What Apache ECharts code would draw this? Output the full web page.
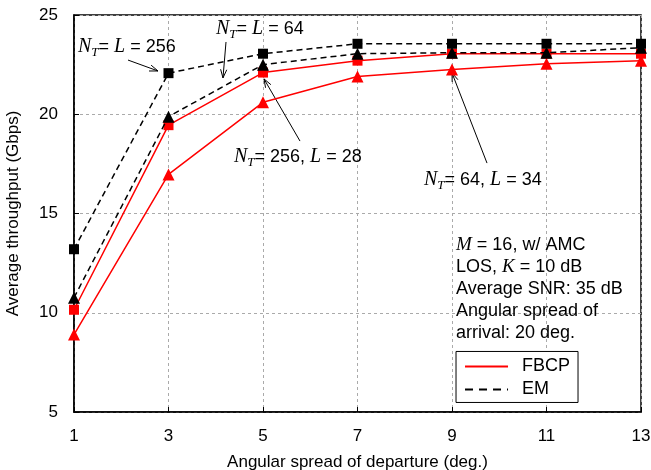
<!DOCTYPE html>
<html><head><meta charset="utf-8">
<script src="https://cdn.jsdelivr.net/npm/echarts@6/dist/echarts.min.js"></script>
<style>html,body{margin:0;padding:0;background:#fff}#c{width:651px;height:470px}</style>
</head><body><div id="c"></div>
<script>
var xValues = [1, 3, 5, 7, 9, 11, 13];
var fbcp256 = [10.15, 19.45, 22.1, 22.7, 23.05, 23.05, 23.05];
var fbcp64  = [8.9, 16.97, 20.6, 21.9, 22.25, 22.55, 22.7];
var em256   = [13.2, 22.07, 23.05, 23.55, 23.55, 23.55, 23.55];
var em64    = [10.76, 19.88, 22.5, 23.05, 23.1, 23.1, 23.35];
var yTicks = {min: 5, max: 25, interval: 5};
var xTicks = {min: 1, max: 13, interval: 2};
var legendNames = ['FBCP', 'EM'];

function pairs(v){ return xValues.map(function(x,i){ return [x, v[i]]; }); }

var FONT = 'Liberation Sans, Arial, sans-serif';
var SERIF = 'Liberation Serif, Times New Roman, serif';
var chart = echarts.init(document.getElementById('c'), null, {renderer: 'canvas'});

function lineSeries(name, data, color, dashed, symbol){
  return {
    name: name, type: 'line', data: pairs(data),
    symbol: symbol, symbolSize: symbol === 'rect' ? 10 : 12,
    itemStyle: {color: color},
    lineStyle: {color: color, width: 1.5, type: dashed ? [6, 4] : 'solid'},
    emphasis: {disabled: true}, animation: false, z: dashed ? 4 : 3
  };
}

chart.setOption({
  animation: false,
  backgroundColor: '#fff',
  grid: {left: 74, right: 10, top: 15, bottom: 58, outerBoundsMode: 'none', containLabel: false,
         show: true, borderColor: '#000', borderWidth: 1.5, backgroundColor: 'transparent'},
  xAxis: {
    type: 'value', min: xTicks.min, max: xTicks.max, interval: xTicks.interval,
    name: 'Angular spread of departure (deg.)', nameLocation: 'middle', nameGap: 42,
    nameTextStyle: {fontFamily: FONT, fontSize: 17, color: '#000'},
    axisLine: {lineStyle: {color: '#000', width: 1.5}},
    axisTick: {inside: true, length: 5, lineStyle: {color: '#000'}},
    axisLabel: {fontFamily: FONT, fontSize: 17, color: '#000', margin: 16},
    splitLine: {show: true, lineStyle: {color: '#aaa', type: [3, 3], width: 1}}
  },
  yAxis: {
    type: 'value', min: yTicks.min, max: yTicks.max, interval: yTicks.interval,
    name: 'Average throughput (Gbps)', nameLocation: 'middle', nameGap: 52,
    nameTextStyle: {fontFamily: FONT, fontSize: 17, color: '#000'},
    axisLine: {show: true, lineStyle: {color: '#000', width: 1.5}},
    axisTick: {show: true, inside: true, length: 5, lineStyle: {color: '#000'}},
    axisLabel: {fontFamily: FONT, fontSize: 17, color: '#000', margin: 16},
    splitLine: {show: true, lineStyle: {color: '#aaa', type: [3, 3], width: 1}}
  },
  series: [
    lineSeries('FBCP 256', fbcp256, '#ff0000', false, 'rect'),
    lineSeries('FBCP 64', fbcp64, '#ff0000', false, 'triangle'),
    lineSeries('EM 256', em256, '#000', true, 'rect'),
    lineSeries('EM 64', em64, '#000', true, 'triangle')
  ]
});

// annotations (data coordinates)
var annotations = [
  {label: [['i','N'],['s','T'],['n','= '],['i','L'],['n',' = 256']], text: [1.085, 23.39], from: [2.143, 22.73], to: [2.778, 22.18]},
  {label: [['i','N'],['s','T'],['n','= '],['i','L'],['n',' = 64']], text: [4.005, 24.29], from: [4.217, 23.64], to: [4.153, 21.83]},
  {label: [['i','N'],['s','T'],['n','= 256, '],['i','L'],['n',' = 28']], text: [4.386, 17.85], from: [5.783, 18.65], to: [5.021, 21.78]},
  {label: [['i','N'],['s','T'],['n','= 64, '],['i','L'],['n',' = 34']], text: [8.407, 16.69], from: [9.741, 17.54], to: [9.0, 22.08]}
];
var rich = {
  i: {fontFamily: SERIF, fontStyle: 'italic', fontSize: 20, color: '#000'},
  s: {fontFamily: SERIF, fontStyle: 'italic', fontSize: 13, color: '#000', verticalAlign: 'bottom', padding: [11, 0, 0, 0]},
  n: {fontFamily: FONT, fontSize: 18, color: '#000'}
};
function richStr(parts){ return parts.map(function(p){ return '{' + p[0] + '|' + p[1] + '}'; }).join(''); }
function px(p){ return chart.convertToPixel({gridIndex: 0}, p); }

var graphics = [];
annotations.forEach(function(a){
  var t = px(a.text), f = px(a.from), e = px(a.to);
  graphics.push({type: 'text', x: t[0], y: t[1], silent: true,
    style: {text: richStr(a.label), rich: rich, verticalAlign: 'middle'}});
  graphics.push({type: 'line', silent: true, shape: {x1: f[0], y1: f[1], x2: e[0], y2: e[1]}, style: {stroke: '#000', lineWidth: 1}});
  var ang = Math.atan2(e[1]-f[1], e[0]-f[0]), L = 9, w = 0.35;
  graphics.push({type: 'polyline', silent: true, shape: {points: [
    [e[0] - L*Math.cos(ang - w), e[1] - L*Math.sin(ang - w)], [e[0], e[1]],
    [e[0] - L*Math.cos(ang + w), e[1] - L*Math.sin(ang + w)]]}, style: {stroke: '#000', lineWidth: 1, fill: null}});
});

var boxLines = [
  '{i|M}{n| = 16, w/ AMC}',
  '{n|LOS, }{i|K}{n| = 10 dB}',
  '{n|Average SNR: 35 dB}',
  '{n|Angular spread of}',
  '{n|arrival: 20 deg.}'
];
var boxRich = {
  i: {fontFamily: SERIF, fontStyle: 'italic', fontSize: 19, color: '#000'},
  n: {fontFamily: FONT, fontSize: 18, color: '#000'}
};
var b0 = px([9.085, 13.4]);
boxLines.forEach(function(s, k){
  graphics.push({type: 'text', x: b0[0], y: b0[1] + k*22, silent: true,
    style: {text: s, rich: boxRich, verticalAlign: 'middle'}});
});

// legend box (drawn as graphic so the keys show plain lines)
var lg = px([9.085, 8.05]);
var lgW = 122, lgH = 51;
graphics.push({type: 'rect', silent: true, z: 10, shape: {x: lg[0], y: lg[1], width: lgW, height: lgH},
  style: {fill: '#fff', stroke: '#000', lineWidth: 1}});
var keyStyles = [{stroke: '#ff0000', lineWidth: 2}, {stroke: '#000', lineWidth: 2, lineDash: [8, 6]}];
legendNames.forEach(function(n, k){
  var yy = lg[1] + 15 + k*23;
  graphics.push({type: 'line', silent: true, z: 11, shape: {x1: lg[0] + 9, y1: yy, x2: lg[0] + 52, y2: yy}, style: keyStyles[k]});
  graphics.push({type: 'text', silent: true, z: 11, x: lg[0] + 66, y: yy,
    style: {text: n, fontFamily: FONT, fontSize: 18, fill: '#000', verticalAlign: 'middle'}});
});
chart.setOption({graphic: graphics});
</script></body></html>
